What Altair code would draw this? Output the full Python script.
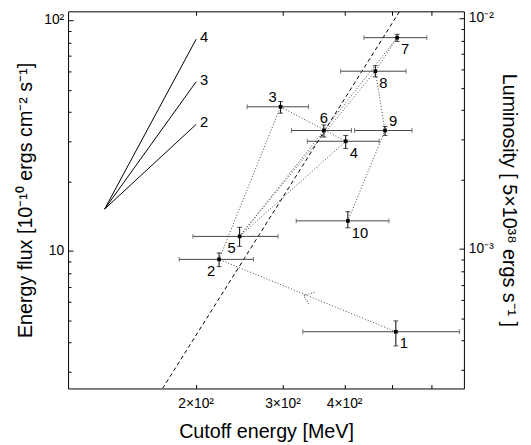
import altair as alt
import pandas as pd

# ---------------- data ----------------
labels = ["1", "2", "3", "4", "5", "6", "7", "8", "9", "10"]
cutoff = [508, 222.6, 296.6, 402, 245, 363, 511, 461.6, 483, 406]
cutoff_lo = [329, 184.8, 253.7, 336, 197, 312, 437.6, 392.6, 419, 319]
cutoff_hi = [684, 261.4, 338, 470, 293, 413, 587, 533, 548, 492]
flux = [4.46, 9.19, 42.2, 29.9, 11.56, 33.3, 84.2, 60.2, 33.3, 13.5]
flux_lo = [3.87, 8.55, 39.6, 27.8, 10.47, 31.2, 81.1, 56.9, 31.7, 12.6]
flux_hi = [4.97, 9.80, 44.5, 31.7, 12.66, 35.2, 87.1, 63.6, 34.7, 14.8]
placement = ["br", "bl", "tl", "br", "bl", "t", "br", "br", "tr", "br"]

segments = [("1", "2"), ("2", "3"), ("3", "4"), ("4", "5"), ("5", "6"),
            ("6", "7"), ("5", "8"), ("7", "8"), ("8", "9"), ("9", "10")]

slope_index = ["2", "3", "4"]
slope_start_cutoff = 130.5
slope_start_flux = 15.2
slope_end_cutoff = 200
slope_end_flux = [35.4, 54.2, 82.9]

dashed_cutoff = [171, 517]
dashed_flux = [2.53, 109.5]

arrow_cutoff = [330.6]
arrow_flux = [6.40]

x_domain = [110, 698]
y_domain = [2.53, 109.5]
lum_domain = [2.48e-4, 1.073e-2]

x_tick_values = [200, 300, 400]
x_tick_labels = ["2×10²", "3×10²", "4×10²"]
x_minor = [200, 300, 400, 500, 600]
y_tick_values = [10, 100]
y_tick_labels = ["10", "10²"]
y_minor = [3, 4, 5, 6, 7, 8, 9, 10, 20, 30, 40, 50, 60, 70, 80, 90, 100]
lum_tick_values = [1e-3, 1e-2]
lum_tick_labels = ["10⁻³", "10⁻²"]
lum_minor = [3e-4, 4e-4, 5e-4, 6e-4, 7e-4, 8e-4, 9e-4, 1e-3,
             2e-3, 3e-3, 4e-3, 5e-3, 6e-3, 7e-3, 8e-3, 9e-3, 1e-2]

x_title = "Cutoff energy [MeV]"
y_title = "Energy flux [10⁻¹⁰ ergs cm⁻² s⁻¹]"
lum_title = "Luminosity [ 5×10³⁸ ergs s⁻¹ ]"

# ---------------- tables ----------------
pts = pd.DataFrame({
    "label": labels, "cutoff": cutoff, "cutoff_lo": cutoff_lo, "cutoff_hi": cutoff_hi,
    "flux": flux, "flux_lo": flux_lo, "flux_hi": flux_hi, "placement": placement,
})

seg_rows = []
for k, (a, b) in enumerate(segments):
    for o, lab in enumerate((a, b)):
        i = labels.index(lab)
        seg_rows.append({"seg": k, "ord": o, "cutoff": cutoff[i], "flux": flux[i]})
seg_df = pd.DataFrame(seg_rows)

slope_rows = []
for idx, fend in zip(slope_index, slope_end_flux):
    slope_rows.append({"idx": idx, "ord": 0, "cutoff": slope_start_cutoff, "flux": slope_start_flux})
    slope_rows.append({"idx": idx, "ord": 1, "cutoff": slope_end_cutoff, "flux": fend})
slope_df = pd.DataFrame(slope_rows)
slope_lab_df = pd.DataFrame({"idx": slope_index, "cutoff": [slope_end_cutoff] * 3,
                             "flux": slope_end_flux})

dash_df = pd.DataFrame({"cutoff": dashed_cutoff, "flux": dashed_flux, "ord": [0, 1]})
arrow_df = pd.DataFrame({"cutoff": arrow_cutoff, "flux": arrow_flux})
lum_df = pd.DataFrame({"lum": lum_tick_values})

xlab_df = pd.DataFrame({"value": x_tick_values, "text": x_tick_labels})
ylab_df = pd.DataFrame({"value": y_tick_values, "text": y_tick_labels})
lumlab_df = pd.DataFrame({"value": lum_tick_values, "text": lum_tick_labels})

FONT = "Liberation Sans"
LABEL_SIZE = 14
TITLE_SIZE = 20
W, H = 402, 383

xs = alt.Scale(type="log", domain=x_domain, nice=False)
ys = alt.Scale(type="log", domain=y_domain, nice=False)
ls = alt.Scale(type="log", domain=lum_domain, nice=False)


def ex(field, axis=None):
    return alt.X(f"{field}:Q", scale=xs, axis=axis)


def ey(field, axis=None):
    return alt.Y(f"{field}:Q", scale=ys, axis=axis)


def major_test(values):
    return "indexof([" + ",".join(repr(v) for v in values) + "], datum.value) >= 0"


tick_axis_common = dict(labels=False, ticks=True, domain=False, grid=False,
                        tickColor="black", tickWidth=1, title=None)
title_axis_common = dict(labels=False, ticks=False, domain=False, grid=False,
                         titleFont=FONT, titleFontSize=TITLE_SIZE, titleFontWeight="normal",
                         titleColor="black")

# ---------------- visible layers ----------------
seg_layer = alt.Chart(seg_df).mark_line(
    color="#444444", strokeDash=[1, 2], strokeWidth=1, clip=True
).encode(x=ex("cutoff"), y=ey("flux"), detail="seg:N", order="ord:Q")

dash_layer = alt.Chart(dash_df).mark_line(
    color="black", strokeDash=[4, 3], strokeWidth=1, clip=True
).encode(x=ex("cutoff"), y=ey("flux"), order="ord:Q")

slope_layer = alt.Chart(slope_df).mark_line(color="black", strokeWidth=1).encode(
    x=ex("cutoff"), y=ey("flux"), detail="idx:N", order="ord:Q")

slope_text = alt.Chart(slope_lab_df).mark_text(
    align="left", baseline="middle", dx=4, dy=-2, font=FONT, fontSize=15, color="black"
).encode(x=ex("cutoff"), y=ey("flux"), text="idx:N")

hbar = alt.Chart(pts).mark_rule(color="#444444", strokeWidth=1).encode(
    x=ex("cutoff_lo"), x2=alt.X2("cutoff_hi:Q"), y=ey("flux"))

hcap = alt.Chart(pts).transform_fold(["cutoff_lo", "cutoff_hi"], as_=["end", "ecap"]).mark_tick(
    orient="vertical", size=5, thickness=1, color="#444444"
).encode(x=ex("ecap"), y=ey("flux"))

vbar = alt.Chart(pts).mark_rule(color="black", strokeWidth=1).encode(
    x=ex("cutoff"), y=ey("flux_lo"), y2=alt.Y2("flux_hi:Q"))

vcap = alt.Chart(pts).transform_fold(["flux_lo", "flux_hi"], as_=["end", "fcap"]).mark_tick(
    orient="horizontal", size=5, thickness=1, color="black"
).encode(x=ex("cutoff"), y=ey("fcap"))

squares = alt.Chart(pts).mark_square(size=14, color="black", opacity=1).encode(
    x=ex("cutoff"), y=ey("flux"))

arrow = alt.Chart(arrow_df).mark_point(
    shape="M 1 -0.8 L 0 0 L 1 0.8", size=300, angle=22, filled=False,
    color="#555555", strokeWidth=1, strokeDash=[1, 1.5], opacity=1
).encode(x=ex("cutoff"), y=ey("flux"))

placement_style = {
    "br": ("left", 4, 12),
    "bl": ("right", -4, 12),
    "tl": ("right", -4, -10),
    "t": ("center", 0, -13),
    "tr": ("left", 4, -10),
}
label_layers = []
for pl, (al, dx, dy) in placement_style.items():
    label_layers.append(
        alt.Chart(pts).transform_filter(alt.datum.placement == pl).mark_text(
            align=al, baseline="middle", dx=dx, dy=dy, font=FONT, fontSize=15, color="black"
        ).encode(x=ex("cutoff"), y=ey("flux"), text="label:N")
    )

# ---------------- tick labels (text through the scales) ----------------
xlab = alt.Chart(xlab_df).mark_text(
    align="center", baseline="middle", dy=16, font=FONT, fontSize=LABEL_SIZE, color="black"
).encode(x=ex("value"), y=alt.value(H), text="text:N")

ylab = alt.Chart(ylab_df).mark_text(
    align="right", baseline="middle", dx=-4, font=FONT, fontSize=LABEL_SIZE, color="black"
).encode(x=alt.value(0), y=ey("value"), text="text:N")

lumlab = alt.Chart(lumlab_df).mark_text(
    align="left", baseline="middle", dx=5, font=FONT, fontSize=LABEL_SIZE, color="black"
).encode(x=alt.value(W), y=alt.Y("value:Q", scale=ls, axis=None), text="text:N")

# ---------------- axis layers (titles and inward ticks) ----------------
ax_x_title = alt.Chart(pts).mark_point(opacity=0).encode(
    x=ex("cutoff", alt.Axis(orient="bottom", title=x_title, titlePadding=34, **title_axis_common)),
    y=ey("flux"))

ax_x_ticks_bottom = alt.Chart(pts).mark_point(opacity=0).encode(
    x=ex("cutoff", alt.Axis(orient="top", offset=-H, values=x_minor, tickSize=4, **tick_axis_common)),
    y=ey("flux"))

ax_x_ticks_top = alt.Chart(pts).mark_point(opacity=0).encode(
    x=ex("cutoff", alt.Axis(orient="bottom", offset=-H, values=x_minor, tickSize=4, **tick_axis_common)),
    y=ey("flux"))

ax_y_title = alt.Chart(pts).mark_point(opacity=0).encode(
    x=ex("cutoff"),
    y=ey("flux", alt.Axis(orient="left", title=y_title, titlePadding=33, **title_axis_common)))

ytick_size = {"condition": {"test": major_test(y_tick_values), "value": 5}, "value": 3}
ax_y_ticks = alt.Chart(pts).mark_point(opacity=0).encode(
    x=ex("cutoff"),
    y=ey("flux", alt.Axis(orient="right", offset=-W, values=y_minor, tickSize=ytick_size,
                          **tick_axis_common)))

ax_lum_title = alt.Chart(lum_df).mark_point(opacity=0).encode(
    y=alt.Y("lum:Q", scale=ls, axis=alt.Axis(orient="right", title=lum_title, titlePadding=35,
                                              **title_axis_common)))

ltick_size = {"condition": {"test": major_test(lum_tick_values), "value": 5}, "value": 3}
ax_lum_ticks = alt.Chart(lum_df).mark_point(opacity=0).encode(
    y=alt.Y("lum:Q", scale=ls, axis=alt.Axis(orient="left", offset=-W, values=lum_minor,
                                              tickSize=ltick_size, **tick_axis_common)))

chart = alt.layer(
    seg_layer, dash_layer, slope_layer, slope_text, hbar, hcap, vbar, vcap, squares, arrow,
    *label_layers, xlab, ylab, lumlab,
    ax_x_title, ax_x_ticks_bottom, ax_x_ticks_top, ax_y_title, ax_y_ticks,
    ax_lum_title, ax_lum_ticks,
).resolve_scale(y="independent").resolve_axis(x="independent", y="independent").properties(
    width=W, height=H,
    autosize=alt.AutoSizeParams(type="none"),
    padding={"left": 61, "top": 0, "right": 60, "bottom": 54},
).configure_view(stroke="black", strokeWidth=1)

chart.save("out.html", embed_options={"renderer": "svg", "actions": False})
